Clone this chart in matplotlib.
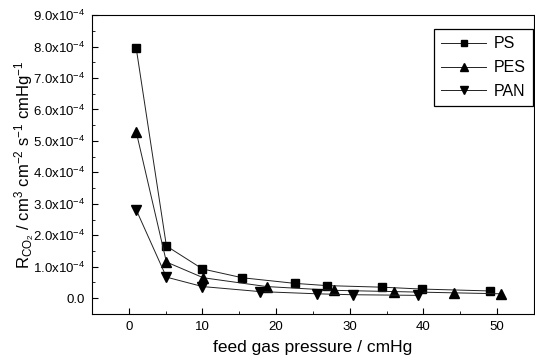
import matplotlib
matplotlib.use('Agg')
import matplotlib.pyplot as plt
from matplotlib.ticker import MultipleLocator, FuncFormatter

plt.rcParams['font.family'] = ['Liberation Sans', 'DejaVu Sans']
plt.rcParams['mathtext.default'] = 'regular'

# data (rate in 1e-4 cm3 cm-2 s-1 cmHg-1)
ps_p = [1.0, 5.1, 10.0, 15.4, 22.6, 26.9, 34.4, 39.8, 49.1]
ps_r = [7.95, 1.66, 0.93, 0.65, 0.47, 0.40, 0.35, 0.29, 0.23]
pes_p = [1.0, 5.1, 10.1, 18.7, 27.8, 36.0, 44.2, 50.5]
pes_r = [5.29, 1.15, 0.65, 0.37, 0.25, 0.21, 0.17, 0.14]
pan_p = [1.0, 5.1, 10.0, 17.8, 25.5, 30.4, 39.3]
pan_r = [2.81, 0.67, 0.37, 0.21, 0.14, 0.11, 0.09]

scale = 1e-4

fig = plt.figure(figsize=(5.35, 3.6), dpi=100)
ax = fig.add_axes([0.172, 0.128, 0.826, 0.830])

lw = 0.7
ax.plot(ps_p, [v * scale for v in ps_r], '-s', color='#222222', mfc='black', mec='black',
        ms=5.5, lw=lw, label='PS')
ax.plot(pes_p, [v * scale for v in pes_r], '-^', color='#222222', mfc='black', mec='black',
        ms=6.5, lw=lw, label='PES')
ax.plot(pan_p, [v * scale for v in pan_r], '-v', color='#222222', mfc='black', mec='black',
        ms=6.5, lw=lw, label='PAN')

ax.set_xlim(-5, 55)
ax.set_ylim(-0.5e-4, 9e-4)
ax.xaxis.set_major_locator(MultipleLocator(10))
ax.xaxis.set_minor_locator(MultipleLocator(5))
ax.yaxis.set_major_locator(MultipleLocator(1e-4))
ax.yaxis.set_minor_locator(MultipleLocator(0.5e-4))


def yfmt(v, pos):
    if abs(v) < 1e-9:
        return '0.0'
    return '%.1fx10$^{-4}$' % (v / scale)


ax.yaxis.set_major_formatter(FuncFormatter(yfmt))
ax.tick_params(which='both', direction='in', top=False, right=False, labelsize=9.5)
ax.tick_params(which='major', length=4, pad=5)
ax.tick_params(which='minor', length=2)

ax.set_xlabel('feed gas pressure / cmHg', fontsize=12.5, labelpad=5)
ax.set_ylabel(r'R$_{CO_2}$ / cm$^3$ cm$^{-2}$ s$^{-1}$ cmHg$^{-1}$', fontsize=12)
ax.yaxis.set_label_coords(-0.124, 0.5)

leg = ax.legend(loc='upper right', bbox_to_anchor=(0.998, 0.953), borderaxespad=0,
                fontsize=11.5, handlelength=2.8, markerscale=0.8, fancybox=False,
                edgecolor='black', framealpha=1, borderpad=0.45, labelspacing=0.55,
                handletextpad=0.5)
leg.get_frame().set_linewidth(0.9)

fig.savefig('out.png', dpi=100)
